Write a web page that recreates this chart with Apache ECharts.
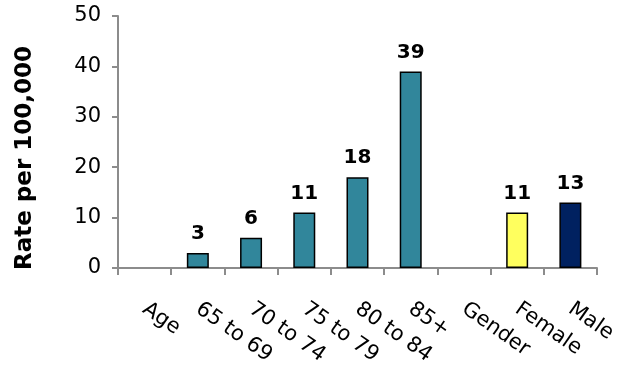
<!DOCTYPE html>
<html>
<head>
<meta charset="utf-8">
<script src="https://cdn.jsdelivr.net/npm/echarts@6/dist/echarts.min.js"></script>
<style>
  html, body { margin: 0; padding: 0; background: #fff; }
  #chart { width: 642px; height: 368px; }
</style>
</head>
<body>
<div id="chart"></div>
<script>
// Rates per 100,000 by age group and by gender (group headers carry no bar)
var categories = ['Age', '65 to 69', '70 to 74', '75 to 79', '80 to 84', '85+', 'Gender', 'Female', 'Male'];
var rates = [null, 3, 6, 11, 18, 39, null, 11, 13];
var yTicks = [0, 10, 20, 30, 40, 50];

var TEAL = '#31869b';
var YELLOW = '#ffff5e';
var NAVY = '#002160';
var AXIS_GREY = '#8c8c8c';
var FONT = 'DejaVu Sans';

var chart = echarts.init(document.getElementById('chart'), null, { renderer: 'canvas' });

chart.setOption({
  animation: false,
  grid: { left: 118, right: 45, top: 16, bottom: 100, containLabel: false },
  xAxis: {
    type: 'category',
    data: categories,
    boundaryGap: true,
    axisLine: { lineStyle: { color: AXIS_GREY, width: 2 } },
    axisTick: { show: true, length: 7, interval: 0, lineStyle: { color: AXIS_GREY, width: 2 } },
    axisLabel: {
      interval: 0,
      rotate: -35,
      margin: 39,
      color: '#000',
      fontFamily: FONT,
      fontSize: 21
    }
  },
  yAxis: {
    type: 'value',
    min: yTicks[0],
    max: yTicks[yTicks.length - 1],
    interval: yTicks[1] - yTicks[0],
    name: 'Rate per 100,000',
    nameLocation: 'middle',
    nameGap: 81,
    nameRotate: 90,
    nameTextStyle: {
      color: '#000', fontFamily: FONT, fontSize: 23, fontWeight: 'bold',
      padding: [0, 32, 0, 0]
    },
    splitLine: { show: false },
    axisLine: { show: true, lineStyle: { color: AXIS_GREY, width: 2 } },
    axisTick: { show: true, length: 6, lineStyle: { color: AXIS_GREY, width: 2 } },
    axisLabel: { margin: 17, color: '#000', fontFamily: FONT, fontSize: 21 }
  },
  series: [{
    type: 'bar',
    data: rates,
    barWidth: 22,
    itemStyle: {
      borderColor: '#000',
      borderWidth: 1.5,
      color: function (p) {
        if (p.name === 'Female') return YELLOW;
        if (p.name === 'Male') return NAVY;
        return TEAL;
      }
    },
    label: {
      show: true,
      position: 'top',
      distance: 9,
      color: '#000',
      fontFamily: FONT,
      fontSize: 20,
      fontWeight: 'bold',
      formatter: function (p) { return p.value == null ? '' : String(p.value); }
    }
  }]
});
</script>
</body>
</html>
